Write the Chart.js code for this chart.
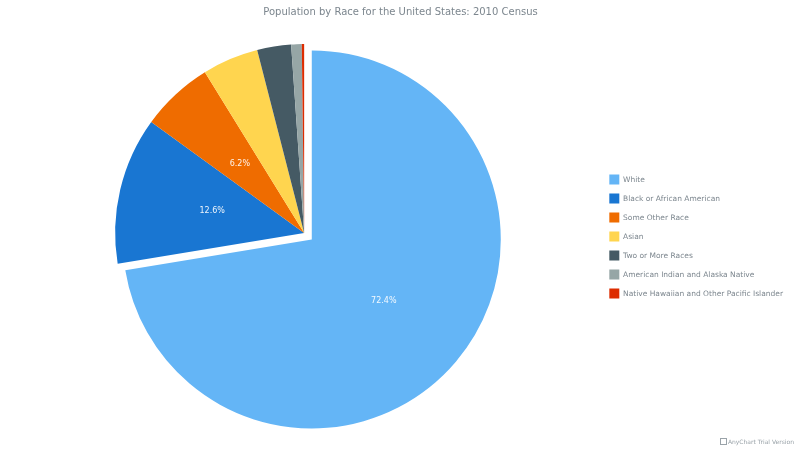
<!DOCTYPE html>
<html>
<head>
<meta charset="utf-8">
<script src="https://cdn.jsdelivr.net/npm/chart.js@4"></script>
<style>
  html, body { margin: 0; padding: 0; background: #fff; }
  #wrap { width: 800px; height: 450px; }
</style>
</head>
<body>
<div id="wrap"><canvas id="myChart" width="800" height="450"></canvas></div>
<script>
const categories = [
  "White",
  "Black or African American",
  "Some Other Race",
  "Asian",
  "Two or More Races",
  "American Indian and Alaska Native",
  "Native Hawaiian and Other Pacific Islander",
];
const percents = [72.4, 12.6, 6.2, 4.8, 2.9, 0.9, 0.2];
const colors = ["#64b5f6", "#1976d2", "#ef6c00", "#ffd54f", "#455a64", "#96a6a6", "#dd2c00"];

const FONT = "'DejaVu Sans', Verdana, sans-serif";
const GREY = "#7c868e";

// push the first slice out a bit, like the exploded slice in the reference
const explodePlugin = {
  id: "explode",
  afterDatasetsUpdate(chart) {
    const arc = chart.getDatasetMeta(0).data[0];
    const mid = (arc.startAngle + arc.endAngle) / 2;
    arc.x += Math.cos(mid) * 10;
    arc.y += Math.sin(mid) * 10;
  },
};

// percent labels at half radius, only for slices big enough
const labelPlugin = {
  id: "sliceLabels",
  afterDatasetsDraw(chart) {
    const ctx = chart.ctx;
    const meta = chart.getDatasetMeta(0);
    ctx.save();
    ctx.font = "8px " + FONT;
    ctx.fillStyle = "rgba(255,255,255,0.92)";
    ctx.textAlign = "center";
    ctx.textBaseline = "middle";
    meta.data.forEach((arc, i) => {
      if (percents[i] < 6) return;
      const mid = (arc.startAngle + arc.endAngle) / 2;
      const r = arc.outerRadius / 2;
      ctx.fillText(percents[i].toFixed(1) + "%", arc.x + Math.cos(mid) * r, arc.y + Math.sin(mid) * r);
    });
    ctx.restore();
  },
};

const creditPlugin = {
  id: "credit",
  afterDraw(chart) {
    const ctx = chart.ctx;
    ctx.save();
    ctx.font = "6px " + FONT;
    ctx.fillStyle = "#9aa3a9";
    ctx.textAlign = "right";
    ctx.textBaseline = "middle";
    ctx.fillText("AnyChart Trial Version", 794, 442);
    const w = ctx.measureText("AnyChart Trial Version").width;
    ctx.strokeStyle = "#9aa3a9";
    ctx.strokeRect(Math.round(794 - w - 8) + 0.5, 438.5, 6, 6);
    ctx.restore();
  },
};

new Chart(document.getElementById("myChart"), {
  type: "pie",
  data: {
    labels: categories,
    datasets: [
      {
        data: percents,
        backgroundColor: colors,
        borderWidth: 0,
      },
    ],
  },
  options: {
    responsive: false,
    animation: false,
    layout: { padding: { left: 8, right: 7, top: 0, bottom: 28 } },
    plugins: {
      title: {
        display: true,
        text: "Population by Race for the United States: 2010 Census",
        color: GREY,
        font: { family: FONT, size: 10, weight: "normal" },
        padding: { top: 6, bottom: 26 },
      },
      legend: {
        position: "right",
        fullSize: false,
        title: { display: true, text: "", font: { size: 1 }, padding: 3 },
        labels: {
          color: GREY,
          font: { family: FONT, size: 7.5 },
          boxWidth: 10,
          boxHeight: 10,
          padding: 9,
        },
      },
      tooltip: { enabled: false },
    },
  },
  plugins: [explodePlugin, labelPlugin, creditPlugin],
});
</script>
</body>
</html>
